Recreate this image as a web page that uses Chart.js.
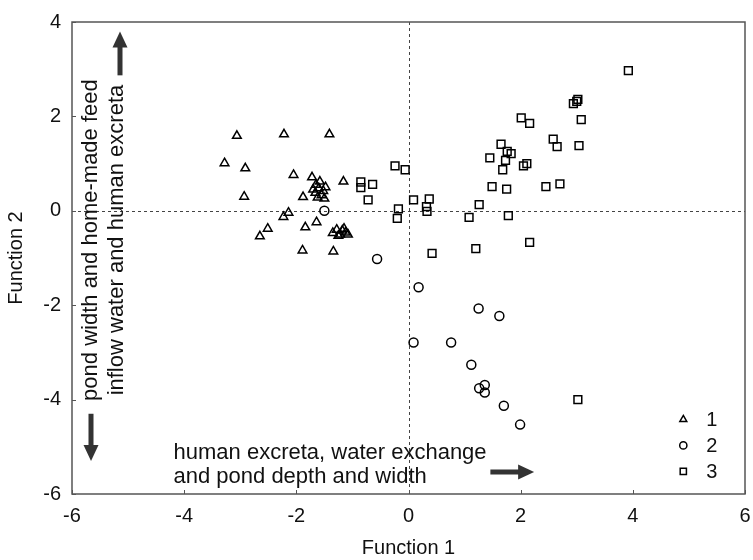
<!DOCTYPE html>
<html>
<head>
<meta charset="utf-8">
<script src="https://cdn.jsdelivr.net/npm/chart.js@4.4.1/dist/chart.umd.min.js"></script>
<style>
  html, body { margin: 0; padding: 0; background: #fff; }
  canvas { display: block; }
</style>
</head>
<body>
<canvas id="chart" width="753" height="560"></canvas>
<script>
// grupo 1 - triangulos
const g1x = [-3.06, -2.22, -1.41, -3.28, -2.91, -2.05, -1.16, -2.93, -1.88,
  -1.72, -1.58, -1.65, -1.70, -1.60, -1.52, -1.66, -1.55, -1.48, -1.62, -1.50,
  -2.14, -2.23, -1.64, -1.84, -2.51, -2.65,
  -1.35, -1.28, -1.22, -1.18, -1.12, -1.25, -1.15, -1.08,
  -1.89, -1.34];
const g1y = [1.59, 1.62, 1.62, 1.01, 0.90, 0.76, 0.62, 0.30, 0.29,
  0.71, 0.62, 0.55, 0.45, 0.48, 0.42, 0.38, 0.33, 0.50, 0.28, 0.26,
  -0.04, -0.13, -0.24, -0.35, -0.38, -0.54,
  -0.47, -0.40, -0.50, -0.42, -0.46, -0.53, -0.38, -0.50,
  -0.84, -0.86];

// grupo 2 - circulos
const g2x = [-1.50, -0.56, 0.18, 1.25, 1.62, 0.09, 0.76, 1.12, 1.26, 1.36, 1.36, 1.70, 1.99];
const g2y = [0.00, -1.02, -1.62, -2.07, -2.23, -2.79, -2.79, -3.26, -3.76, -3.69, -3.85, -4.13, -4.53];

// grupo 3 - cuadrados
const g3x = [-0.24, -0.06, -0.85, -0.85, -0.64, -0.72, -0.18, -0.20,
  0.09, 0.37, 0.32, 0.33, 0.42, 1.08, 1.26, 1.20, 1.78, 2.16,
  1.49, 1.75, 2.45, 2.70, 1.45, 1.65, 1.76, 1.83, 1.73, 1.68, 2.05, 2.11,
  2.01, 2.16, 2.58, 2.65, 3.04, 3.08, 2.94, 3.00, 3.02, 3.92, 3.02];
const g3y = [0.95, 0.87, 0.61, 0.49, 0.56, 0.23, 0.04, -0.16,
  0.23, 0.25, 0.09, -0.01, -0.90, -0.14, 0.13, -0.80, -0.10, -0.67,
  0.51, 0.46, 0.51, 0.57, 1.12, 1.41, 1.26, 1.21, 1.07, 0.87, 0.95, 1.00,
  1.97, 1.85, 1.52, 1.36, 1.38, 1.93, 2.27, 2.32, 2.36, 2.97, -4.00];

const groupLabels = ['1', '2', '3'];
const groupStyles = ['triangle', 'circle', 'rect'];
const groupRadius = [5, 4.5, 5.5];
const xTicks = [-6, -4, -2, 0, 2, 4, 6];
const yTicks = [-6, -4, -2, 0, 2, 4];

const xTitle = 'Function 1';
const yTitle = 'Function 2';
const noteX = ['human excreta, water exchange', 'and pond depth and width'];
const noteY = ['pond width and home-made feed', 'inflow water and human excreta'];

const FONT = 'Arial, "Liberation Sans", sans-serif';

function toPoints(xs, ys) {
  return xs.map((x, i) => ({ x: x, y: ys[i] }));
}

// flecha simple: cuerpo + punta
function arrow(ctx, x1, y1, x2, y2) {
  const ang = Math.atan2(y2 - y1, x2 - x1);
  const len = Math.hypot(x2 - x1, y2 - y1);
  ctx.save();
  ctx.translate(x1, y1);
  ctx.rotate(ang);
  ctx.fillStyle = '#333';
  ctx.fillRect(0, -2.5, len - 15, 5);
  ctx.beginPath();
  ctx.moveTo(len, 0);
  ctx.lineTo(len - 16, -7.5);
  ctx.lineTo(len - 16, 7.5);
  ctx.closePath();
  ctx.fill();
  ctx.restore();
}

const decor = {
  id: 'decor',
  beforeDatasetsDraw(chart) {
    const { ctx, chartArea: a, scales } = chart;
    const x0 = scales.x.getPixelForValue(0);
    const y0 = scales.y.getPixelForValue(0);
    ctx.save();
    // lineas de cero
    ctx.strokeStyle = '#444';
    ctx.lineWidth = 1;
    ctx.setLineDash([3, 3]);
    ctx.beginPath();
    ctx.moveTo(Math.round(x0) + 0.5, a.top);
    ctx.lineTo(Math.round(x0) + 0.5, a.bottom);
    ctx.moveTo(a.left, Math.round(y0) + 0.5);
    ctx.lineTo(a.right, Math.round(y0) + 0.5);
    ctx.stroke();
    ctx.setLineDash([]);
    // marco
    ctx.strokeStyle = '#555';
    ctx.lineWidth = 1.5;
    ctx.strokeRect(a.left, a.top, a.right - a.left, a.bottom - a.top);
    // ticks hacia dentro
    ctx.lineWidth = 1;
    ctx.beginPath();
    xTicks.forEach(v => {
      const px = Math.round(scales.x.getPixelForValue(v)) + 0.5;
      ctx.moveTo(px, a.bottom);
      ctx.lineTo(px, a.bottom - 4);
    });
    yTicks.forEach(v => {
      const py = Math.round(scales.y.getPixelForValue(v)) + 0.5;
      ctx.moveTo(a.left, py);
      ctx.lineTo(a.left + 4, py);
    });
    ctx.stroke();
    ctx.restore();
  },
  afterDraw(chart) {
    const { ctx, chartArea: a, scales } = chart;
    ctx.save();
    ctx.fillStyle = '#111';
    ctx.font = '22px ' + FONT;
    ctx.textBaseline = 'alphabetic';

    // texto horizontal abajo
    const tx = scales.x.getPixelForValue(-4.19);
    ctx.textAlign = 'left';
    ctx.fillText(noteX[0], tx, a.bottom - 35);
    ctx.fillText(noteX[1], tx, a.bottom - 11);
    arrow(ctx, scales.x.getPixelForValue(1.46), a.bottom - 22, scales.x.getPixelForValue(2.24), a.bottom - 22);

    // texto vertical
    const cy = scales.y.getPixelForValue(-0.62);
    ctx.textAlign = 'center';
    ctx.textBaseline = 'middle';
    [[noteY[0], a.left + 19], [noteY[1], a.left + 45]].forEach(([t, x]) => {
      ctx.save();
      ctx.translate(x, cy);
      ctx.rotate(-Math.PI / 2);
      ctx.fillText(t, 0, 0);
      ctx.restore();
    });
    arrow(ctx, a.left + 48, scales.y.getPixelForValue(2.87), a.left + 48, scales.y.getPixelForValue(3.8));
    arrow(ctx, a.left + 19, scales.y.getPixelForValue(-4.3), a.left + 19, scales.y.getPixelForValue(-5.3));

    // leyenda
    ctx.textAlign = 'left';
    ctx.font = '20px ' + FONT;
    const lx = scales.x.getPixelForValue(4.9);
    groupLabels.forEach((lab, i) => {
      const ly = scales.y.getPixelForValue(-4.42 - i * 0.55);
      ctx.strokeStyle = '#000';
      ctx.fillStyle = '#fff';
      ctx.lineWidth = 1.5;
      Chart.helpers.drawPoint(ctx, { pointStyle: groupStyles[i], radius: groupRadius[i] * 0.8, borderWidth: 1.5 }, lx, ly);
      ctx.fillStyle = '#111';
      ctx.fillText(lab, lx + 23, ly + 1);
    });
    ctx.restore();
  }
};

function makeDataset(i, xs, ys) {
  return {
    label: groupLabels[i],
    data: toPoints(xs, ys),
    pointStyle: groupStyles[i],
    pointRadius: groupRadius[i],
    pointBorderWidth: 1.5,
    pointBorderColor: '#000',
    pointBackgroundColor: 'rgba(255,255,255,0)',
    showLine: false
  };
}

const ctx = document.getElementById('chart').getContext('2d');
new Chart(ctx, {
  type: 'scatter',
  data: {
    datasets: [
      makeDataset(0, g1x, g1y),
      makeDataset(1, g2x, g2y),
      makeDataset(2, g3x, g3y)
    ]
  },
  options: {
    responsive: false,
    devicePixelRatio: 1,
    animation: false,
    layout: { padding: { top: 22, right: 8, left: 0, bottom: 0 } },
    plugins: { legend: { display: false }, tooltip: { enabled: false } },
    scales: {
      x: {
        min: -6, max: 6,
        afterFit: s => { s.height = 66; s.paddingLeft = 0; s.paddingRight = 0; },
        afterBuildTicks: s => { s.ticks = xTicks.map(v => ({ value: v })); },
        grid: { display: false, drawTicks: false },
        border: { display: false },
        ticks: { color: '#111', font: { size: 20, family: FONT }, padding: 10, maxRotation: 0 },
        title: { display: true, text: xTitle, color: '#111', font: { size: 20, family: FONT }, padding: { top: 0, bottom: 0 } }
      },
      y: {
        min: -6, max: 4,
        afterFit: s => { s.width = 72; s.paddingTop = 0; s.paddingBottom = 0; },
        afterBuildTicks: s => { s.ticks = yTicks.map(v => ({ value: v })); },
        grid: { display: false, drawTicks: false },
        border: { display: false },
        ticks: { color: '#111', font: { size: 20, family: FONT }, padding: 11 },
        title: { display: true, text: yTitle, color: '#111', font: { size: 20, family: FONT }, padding: { top: 4, bottom: 0 } }
      }
    }
  },
  plugins: [decor]
});
</script>
</body>
</html>
